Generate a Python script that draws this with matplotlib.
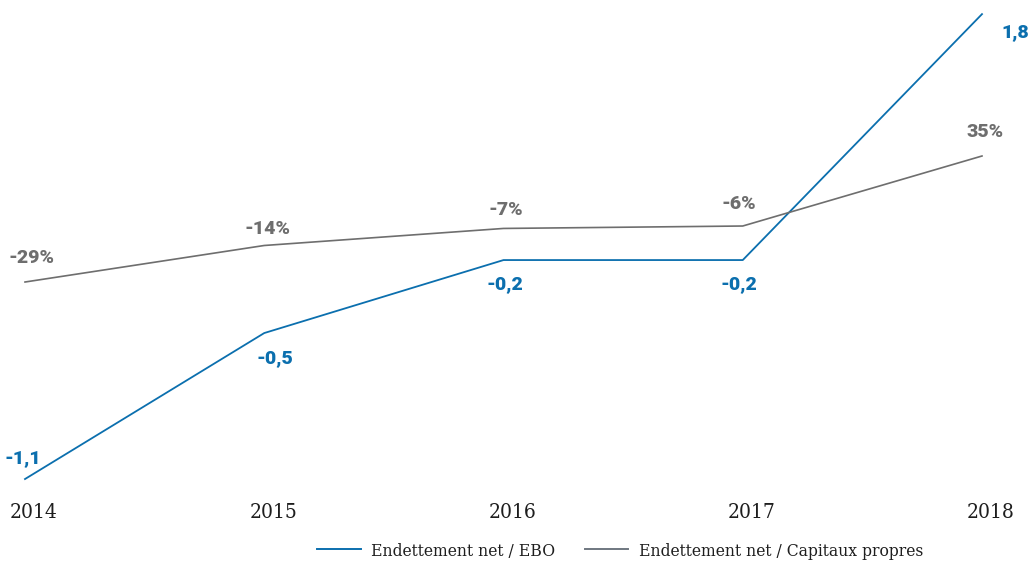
import numpy as np
import matplotlib
matplotlib.use("Agg")
import matplotlib.pyplot as plt
from matplotlib.lines import Line2D
from matplotlib.transforms import ScaledTranslation

# data
years = [2014, 2015, 2016, 2017, 2018]
ebo = [-1.1, -0.5, -0.2, -0.2, 1.8]
capitaux = [-29, -14, -7, -6, 35]
ebo_labels = ["-1,1", "-0,5", "-0,2", "-0,2", "1,8"]
capitaux_labels = ["-29%", "-14%", "-7%", "-6%", "35%"]

BLUE = "#0b6fae"
GRAY = "#6e6e6e"
TXT = "#1e1e1e"
SERIF = ["DejaVu Serif", "DejaVu Sans"]
BOLD = ["Roboto", "DejaVu Sans"]

W, H = 1032, 566
TOP, BOTTOM, ZERO = 10, 485, 211.4  # pixel rows of axes top/bottom and the zero line


def piecewise(neg, pos):
    # the original chart stretches negatives more than positives
    fwd = lambda y: np.where(np.asarray(y) < 0, np.asarray(y) * neg, np.asarray(y) * pos)
    inv = lambda t: np.where(np.asarray(t) < 0, np.asarray(t) / neg, np.asarray(t) / pos)
    return (fwd, inv)


def setup(ax, neg, pos):
    ax.set_yscale("function", functions=piecewise(neg, pos))
    ax.set_ylim(-(BOTTOM - ZERO) / neg, (ZERO - TOP) / pos)
    ax.set_yticks([])
    for s in ax.spines.values():
        s.set_visible(False)


fig = plt.figure(figsize=(W / 100, H / 100), dpi=100)
ax1 = fig.add_axes([25 / W, 1 - BOTTOM / H, 957 / W, (BOTTOM - TOP) / H])
ax2 = ax1.twinx()
ax1.set_xlim(2014, 2018)

setup(ax1, 243.3, 109.6)
setup(ax2, 2.435, 1.583)

ax2.plot(years, capitaux, color=GRAY, lw=1.2, clip_on=False)
ax1.plot(years, ebo, color=BLUE, lw=1.3, clip_on=False)

# value labels (offsets in pixels)
cap_off = [(6, 24), (3, 16), (2, 18), (-4, 22), (3, 24)]
ebo_off = [(-2, 21), (11, -25), (1, -24), (-4, -24), (33, -18)]
for x, y, t, o in zip(years, capitaux, capitaux_labels, cap_off):
    ax2.annotate(t, (x, y), xytext=o, textcoords="offset pixels", ha="center", va="center",
                 color=GRAY, fontsize=14, fontweight="heavy", family=BOLD, annotation_clip=False)
for x, y, t, o in zip(years, ebo, ebo_labels, ebo_off):
    ax1.annotate(t, (x, y), xytext=o, textcoords="offset pixels", ha="center", va="center",
                 color=BLUE, fontsize=14, fontweight="heavy", family=BOLD, annotation_clip=False)

ax1.set_xticks(years)
ax1.set_xticklabels([str(y) for y in years], fontsize=15, color=TXT, family=SERIF,
                    fontstretch="condensed")
ax1.tick_params(axis="x", length=0, pad=13)
ax2.tick_params(axis="x", length=0)
shift = ScaledTranslation(9 / 100, 0, fig.dpi_scale_trans)
for lab in ax1.get_xticklabels():
    lab.set_transform(lab.get_transform() + shift)

handles = [Line2D([], [], color=BLUE, lw=1.4), Line2D([], [], color="#6f7780", lw=1.4)]
fig.legend(handles, ["Endettement net / EBO", "Endettement net / Capitaux propres"],
           loc="center", bbox_to_anchor=(620 / W, 1 - 551 / H), ncol=2, frameon=False,
           handlelength=2.5, handletextpad=0.6, columnspacing=1.7,
           prop={"family": SERIF, "size": 12.5, "stretch": "condensed"}, labelcolor=TXT)

fig.savefig("out.png", dpi=100, facecolor="white")
